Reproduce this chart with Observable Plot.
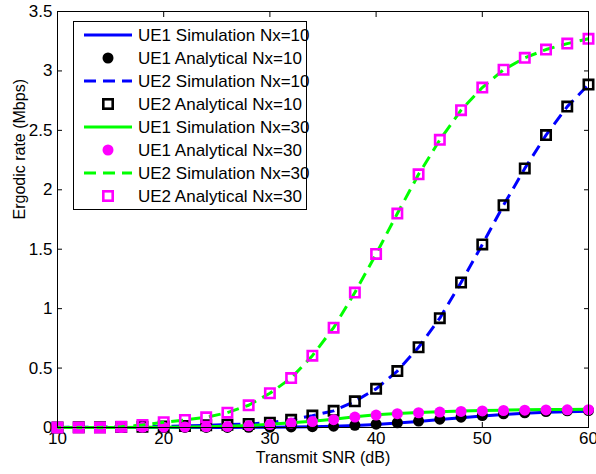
<!DOCTYPE html>
<html><head><meta charset="utf-8">
<script src="https://cdn.jsdelivr.net/npm/d3@7"></script>
<script src="https://cdn.jsdelivr.net/npm/@observablehq/plot@0.6"></script>
<style>body{margin:0;background:#fff}</style>
</head><body><div id="chart"></div>
<script>
const snr = [10,12,14,16,18,20,22,24,26,28,30,32,34,36,38,40,42,44,46,48,50,52,54,56,58,60];

const ue1SimNx10 = [0,0,0,0,0,0.001,0.001,0.001,0.001,0.002,0.003,0.004,0.006,0.010,0.017,0.026,0.037,0.051,0.067,0.083,0.097,0.110,0.120,0.128,0.133,0.136];
const ue1AnaNx10 = [0,0,0,0,0,0.001,0.001,0.001,0.001,0.002,0.003,0.005,0.007,0.011,0.019,0.028,0.040,0.054,0.070,0.087,0.101,0.115,0.124,0.134,0.140,0.143];
const ue2SimNx10 = [0.001,0.002,0.003,0.004,0.006,0.009,0.013,0.018,0.024,0.030,0.040,0.065,0.100,0.140,0.220,0.325,0.475,0.675,0.920,1.220,1.540,1.870,2.180,2.460,2.700,2.885];
const ue2AnaNx10 = [0.001,0.002,0.003,0.004,0.006,0.009,0.013,0.018,0.024,0.030,0.040,0.065,0.100,0.140,0.220,0.325,0.475,0.675,0.920,1.220,1.540,1.870,2.180,2.460,2.700,2.885];
const ue1SimNx30 = [0,0,0.001,0.001,0.002,0.003,0.005,0.007,0.010,0.016,0.027,0.040,0.053,0.069,0.090,0.107,0.118,0.127,0.133,0.138,0.142,0.146,0.149,0.151,0.152,0.153];
const ue1AnaNx30 = [0,0,0.001,0.001,0.002,0.003,0.004,0.006,0.008,0.014,0.025,0.037,0.050,0.066,0.088,0.105,0.116,0.124,0.130,0.135,0.139,0.143,0.146,0.148,0.149,0.150];
const ue2SimNx30 = [0,0,0,0.007,0.021,0.044,0.063,0.086,0.125,0.187,0.288,0.416,0.604,0.840,1.135,1.460,1.800,2.130,2.420,2.670,2.860,3.010,3.110,3.180,3.230,3.270];
const ue2AnaNx30 = [0,0,0,0.007,0.021,0.044,0.063,0.086,0.125,0.187,0.288,0.416,0.604,0.840,1.135,1.460,1.800,2.130,2.420,2.670,2.860,3.010,3.110,3.180,3.230,3.270];

const legendLabels = [
  "UE1 Simulation Nx=10","UE1 Analytical Nx=10","UE2 Simulation Nx=10","UE2 Analytical Nx=10",
  "UE1 Simulation Nx=30","UE1 Analytical Nx=30","UE2 Simulation Nx=30","UE2 Analytical Nx=30"
];
const xTicks = [10,20,30,40,50,60];
const yTicks = [0,0.5,1,1.5,2,2.5,3,3.5];
const xLabel = "Transmit SNR (dB)";
const yLabel = "Ergodic rate (Mbps)";

const BLUE = "#0000ff", GREEN = "#00ff00", MAGENTA = "#ff00ff", BLACK = "#000000";
const DASH = "12,7";
const font = "'Liberation Sans', Arial, Helvetica, sans-serif";

const styles = [
  {kind:"line", color:BLUE},
  {kind:"circle", color:BLACK},
  {kind:"line", color:BLUE, dash:DASH},
  {kind:"square", color:BLACK},
  {kind:"line", color:GREEN},
  {kind:"circle", color:MAGENTA},
  {kind:"line", color:GREEN, dash:DASH},
  {kind:"square", color:MAGENTA}
];
const seriesValues = [ue1SimNx10, ue1AnaNx10, ue2SimNx10, ue2AnaNx10, ue1SimNx30, ue1AnaNx30, ue2SimNx30, ue2AnaNx30];

const rows = vals => snr.map((x, i) => ({x, y: vals[i]}));

const dataMarks = seriesValues.map((vals, i) => {
  const s = styles[i];
  if (s.kind === "line") return Plot.line(rows(vals), {x:"x", y:"y", stroke:s.color, strokeWidth:3, strokeDasharray:s.dash, strokeLinecap:"butt"});
  if (s.kind === "circle") return Plot.dot(rows(vals), {x:"x", y:"y", r:5.5, fill:s.color, stroke:"none"});
  return Plot.dot(rows(vals), {x:"x", y:"y", r:5.3, symbol:"square", fill:"none", stroke:s.color, strokeWidth:2.6});
});

const plot = Plot.plot({
  width:596, height:474,
  marginTop:11, marginRight:8, marginBottom:47, marginLeft:57,
  style:{fontFamily:font, fontSize:"17px", background:"white", color:"black"},
  x:{domain:[10,60]},
  y:{domain:[0,3.5]},
  marks:[
    Plot.axisX(xTicks, {anchor:"bottom", tickSize:0, tickPadding:4, fontSize:17, label:null}),
    Plot.axisX(xTicks, {anchor:"bottom", tickSize:-5, tickFormat:() => "", label:null}),
    Plot.axisX(xTicks, {anchor:"top", tickSize:-5, tickFormat:() => "", label:null}),
    Plot.axisY(yTicks, {anchor:"left", tickSize:0, tickPadding:5, fontSize:17, tickFormat:d => String(d), label:null}),
    Plot.axisY(yTicks, {anchor:"left", tickSize:-5, tickFormat:() => "", label:null}),
    Plot.axisY(yTicks, {anchor:"right", tickSize:-5, tickFormat:() => "", label:null}),
    ...dataMarks,
    Plot.frame({stroke:"black", strokeWidth:1}),
    Plot.text([xLabel], {frameAnchor:"bottom", dy:35, fontSize:16, fill:"black"}),
    Plot.text([yLabel], {frameAnchor:"left", dx:-38, rotate:-90, fontSize:16, fill:"black"})
  ]
});

// Legend inside the axes (top-left)
const svg = d3.select(plot);
const lg = svg.append("g").attr("font-family", font).attr("font-size", 17).attr("text-anchor", "start");
const L = {x:73, y:21, w:233, h:188, row0:35, step:23, lx1:84, lx2:132, mx:108, tx:138};
lg.append("rect").attr("x", L.x + 0.5).attr("y", L.y + 0.5).attr("width", L.w).attr("height", L.h)
  .attr("fill", "white").attr("stroke", "black").attr("stroke-width", 1);
legendLabels.forEach((lab, i) => {
  const s = styles[i];
  const cy = L.row0 + i * L.step;
  if (s.kind === "line") {
    lg.append("line").attr("x1", L.lx1).attr("x2", L.lx2).attr("y1", cy).attr("y2", cy)
      .attr("stroke", s.color).attr("stroke-width", 3).attr("stroke-dasharray", s.dash || null);
  } else if (s.kind === "circle") {
    lg.append("circle").attr("cx", L.mx).attr("cy", cy).attr("r", 5.5).attr("fill", s.color);
  } else {
    lg.append("rect").attr("x", L.mx - 4.7).attr("y", cy - 4.7).attr("width", 9.4).attr("height", 9.4)
      .attr("fill", "none").attr("stroke", s.color).attr("stroke-width", 2.6);
  }
  lg.append("text").attr("x", L.tx).attr("y", cy).attr("dy", "0.35em").attr("text-anchor", "start").attr("fill", "black").text(lab);
});

document.getElementById("chart").appendChild(plot);
</script>
</body></html>
